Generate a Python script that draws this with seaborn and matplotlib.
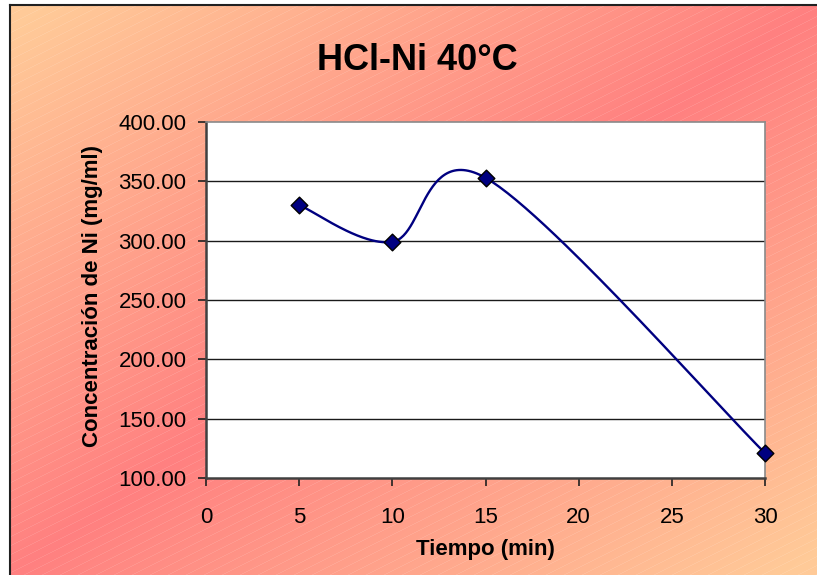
import numpy as np
import pandas as pd
import matplotlib
matplotlib.use("Agg")
import matplotlib.pyplot as plt
import seaborn as sns

# Measured nickel concentration vs. leaching time
tiempo = [5, 10, 15, 30]
concentracion = [330.0, 299.0, 353.0, 121.0]
x_ticks = [0, 5, 10, 15, 20, 25, 30]
y_ticks = [100, 150, 200, 250, 300, 350, 400]

titulo = "HCl-Ni 40°C"
etiqueta_x = "Tiempo (min)"
etiqueta_y = "Concentración de Ni (mg/ml)"

sns.set_theme(style="white")
plt.rcParams["font.family"] = ["Liberation Sans", "DejaVu Sans"]
plt.rcParams["text.color"] = "black"
plt.rcParams["axes.labelcolor"] = "black"
plt.rcParams["xtick.color"] = "black"
plt.rcParams["ytick.color"] = "black"

W, H = 817, 575
fig = plt.figure(figsize=(W / 100, H / 100), dpi=100)
fig.patch.set_facecolor("white")

# ---- chart-area background: diagonal peach/red/peach gradient with fine stripes
bx0, by0 = 10, 5
bw, bh = W - bx0, H - by0
bg = fig.add_axes([bx0 / W, 0, bw / W, bh / H], zorder=-5)
yy, xx = np.mgrid[0:bh, 0:bw]
t = (xx / bw + yy / bh) / 2.0
m = np.clip(1.0 - np.abs(2 * t - 1) * 1.05, 0, 1)
peach = np.array([255, 202, 152]) / 255.0
red = np.array([255, 128, 128]) / 255.0
img = peach[None, None, :] * (1 - m[..., None]) + red[None, None, :] * m[..., None]
stripe = ((xx * 0.5 + yy) % 9) < 1.0
img = np.where(stripe[..., None], img * 0.9 + 0.1, img)
bg.imshow(img, extent=[0, bw, bh, 0], aspect="auto", interpolation="nearest")
bg.set_xlim(0, bw)
bg.set_ylim(bh, 0)
bg.set_xticks([])
bg.set_yticks([])
for side in ["right", "bottom"]:
    bg.spines[side].set_visible(False)
for side in ["left", "top"]:
    bg.spines[side].set_visible(True)
    bg.spines[side].set_color("#202020")
    bg.spines[side].set_linewidth(1.5)

# ---- plot area
left, right, top, bottom = 206, 765, 122, 478
ax = fig.add_axes([left / W, 1 - bottom / H, (right - left) / W, (bottom - top) / H])
ax.set_facecolor("white")
ax.set_xlim(0, 30)
ax.set_ylim(100, 400)
ax.set_xticks(x_ticks)
ax.set_yticks(y_ticks)
ax.set_yticklabels([f"{v:.2f}" for v in y_ticks])
ax.set_xticklabels([str(v) for v in x_ticks])

for v in y_ticks[1:-1]:
    ax.axhline(v, color="#1a1a1a", lw=1.0, zorder=1)

# Smoothed curve (cubic Bezier through the points, built in display space)
pts = ax.transData.transform(np.column_stack([tiempo, concentracion]))
n = len(pts)
curve = []
for i in range(n - 1):
    p0 = pts[i - 1] if i > 0 else pts[i]
    p1, p2 = pts[i], pts[i + 1]
    p3 = pts[i + 2] if i + 2 < n else pts[i + 1]
    c1 = p1 + (p2 - p0) / 6.0
    c2 = p2 - (p3 - p1) / 6.0
    s = np.linspace(0, 1, 60)[:, None]
    seg = ((1 - s) ** 3) * p1 + 3 * ((1 - s) ** 2) * s * c1 + 3 * (1 - s) * s ** 2 * c2 + s ** 3 * p2
    curve.append(seg if i == 0 else seg[1:])
curve = ax.transData.inverted().transform(np.vstack(curve))
df_curve = pd.DataFrame({"t": curve[:, 0], "c": curve[:, 1]})
df_pts = pd.DataFrame({"t": tiempo, "c": concentracion})

sns.lineplot(data=df_curve, x="t", y="c", sort=False, ax=ax, color="#000080",
             lw=1.7, zorder=3, estimator=None)
sns.scatterplot(data=df_pts, x="t", y="c", ax=ax, marker="D", s=72,
                color="#000080", edgecolor="black", linewidth=1.0, zorder=4,
                clip_on=False)

for side in ["left", "bottom"]:
    ax.spines[side].set_color("#404040")
    ax.spines[side].set_linewidth(1.8)
for side in ["top", "right"]:
    ax.spines[side].set_color("#8a8a8a")
    ax.spines[side].set_linewidth(1.2)

ax.tick_params(axis="both", which="major", direction="out", length=6, width=1.2,
               color="#202020", labelsize=16, labelcolor="black",
               bottom=True, left=True)
ax.tick_params(axis="y", pad=8)
ax.tick_params(axis="x", pad=15)

ax.set_xlabel(etiqueta_x, fontsize=16, fontweight="bold", color="black")
ax.set_ylabel(etiqueta_y, fontsize=16, fontweight="bold", color="black")
ax.yaxis.set_label_coords((93 - left) / (right - left), (bottom - 295.5) / (bottom - top))
ax.xaxis.set_label_coords(0.5, (bottom - 549) / (bottom - top))
ax.xaxis.label.set_va("center")
ax.yaxis.label.set_va("center")

fig.text(417 / W, 1 - 61 / H, titulo, ha="center", va="center",
         fontsize=26, fontweight="bold", color="black")

fig.savefig("out.png", dpi=100)
